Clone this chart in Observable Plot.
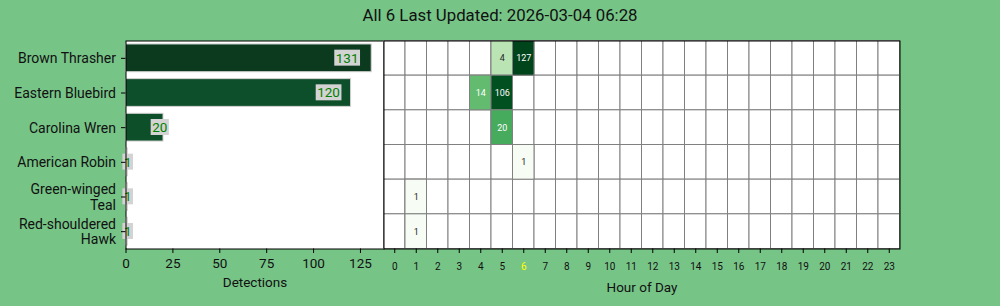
<!DOCTYPE html>
<html><head><meta charset="utf-8">
<script src="https://cdn.jsdelivr.net/npm/d3@7"></script>
<script src="https://cdn.jsdelivr.net/npm/@observablehq/plot@0.6"></script>
<style>
html,body{margin:0;padding:0;background:#77C487;}
#wrap{position:relative;width:1000px;height:306px;background:#77C487;font-family:Roboto,sans-serif;overflow:hidden}
#title{position:absolute;top:5px;left:0;width:1000px;text-align:center;font-size:16.8px;line-height:20px;color:#111;}
#left{position:absolute;left:0;top:0}
#right{position:absolute;left:383px;top:0}
</style></head><body>
<div id="wrap"><div id="title"></div><div id="left"></div><div id="right"></div></div>
<script>
// ---- data ----
const titleText = "All 6 Last Updated: 2026-03-04 06:28";
const species = ["Brown Thrasher","Eastern Bluebird","Carolina Wren","American Robin","Green-winged Teal","Red-shouldered Hawk"];
const yTickLabels = ["Brown Thrasher","Eastern Bluebird","Carolina Wren","American Robin","Green-winged\nTeal","Red-shouldered\nHawk"];
const totals = [131,120,20,1,1,1];
const xTicks = [0,25,50,75,100,125];
const hours = [0,1,2,3,4,5,6,7,8,9,10,11,12,13,14,15,16,17,18,19,20,21,22,23];
const currentHour = 6;
const cellSpecies = ["Brown Thrasher","Brown Thrasher","Eastern Bluebird","Eastern Bluebird","Carolina Wren","American Robin","Green-winged Teal","Red-shouldered Hawk"];
const cellHours = [5,6,4,5,5,6,1,1];
const cellCounts = [4,127,14,106,20,1,1,1];

// ---- styles ----
const barColors = ["#0b3a1f","#0c4f2a","#0d4f29","#f4f9f2","#f4f9f2","#f4f9f2"];
const ink = "#111";

document.getElementById("title").textContent = titleText;

const bars = species.map((s,i)=>({species:s, total:totals[i]}));
const cells = cellSpecies.map((s,i)=>({species:s, hour:cellHours[i], count:cellCounts[i]}));
const grid = species.flatMap(s=>hours.map(h=>({species:s, hour:h})));

const left = Plot.plot({
  width: 384, height: 306,
  marginLeft: 125.5, marginRight: 0.5, marginTop: 40.5, marginBottom: 57.5,
  style: {background:"transparent", fontFamily:"Roboto", color: ink, overflow:"visible"},
  x: {domain:[0, d3.max(totals)*1.05]},
  y: {domain: species, paddingInner: 0.2, paddingOuter: 0.1, round: false},
  color: {domain: species, range: barColors},
  marks: [
    Plot.frame({fill:"white", stroke:"none"}),
    Plot.barX(bars, {x:"total", y:"species", fill:"species", stroke:"#d3d3d3", strokeWidth:1}),
    Plot.text(bars, {x: d=>d.total*0.9, y:"species", text: d=>String(d.total), fill:"green", fontSize:13.5, className:"vlabel"}),
    Plot.frame({stroke:"black", strokeWidth:1}),
    Plot.axisX({ticks: xTicks, tickSize:4.5, tickPadding:4.5, fontSize:13.5, stroke:"black", fill: ink,
      label:"Detections", labelAnchor:"center", labelArrow:"none", labelOffset:38}),
    Plot.axisY({tickSize:4.5, tickPadding:5.5, fontSize:14, lineHeight:1.1, fill: ink, stroke:"black",
      tickFormat: d => yTickLabels[species.indexOf(d)], label:null})
  ]
});
document.getElementById("left").appendChild(left);

// label boxes behind value texts
left.querySelectorAll(".vlabel text").forEach(t=>{
  const b = t.getBBox();
  const r = document.createElementNS("http://www.w3.org/2000/svg","rect");
  r.setAttribute("x", b.x-1.5); r.setAttribute("y", b.y);
  r.setAttribute("width", b.width+3); r.setAttribute("height", b.height);
  r.setAttribute("fill", "#d3d3d3");
  const tr = t.getAttribute("transform");
  if (tr) r.setAttribute("transform", tr);
  t.parentNode.insertBefore(r, t);
});

const lum = d3.scaleLog().domain([1,127]).range([0,1]);
function isDark(v){
  const c = d3.rgb(d3.interpolateGreens(lum(v)));
  const lin = x => { x/=255; return x<=0.03928 ? x/12.92 : Math.pow((x+0.055)/1.055,2.4); };
  const L = 0.2126*lin(c.r)+0.7152*lin(c.g)+0.0722*lin(c.b);
  return L < 0.408;
}

const right = Plot.plot({
  width: 617, height: 306,
  marginLeft: 0.5, marginRight: 100.5, marginTop: 40.5, marginBottom: 57.5,
  style: {background:"transparent", fontFamily:"Roboto", color: ink, overflow:"visible"},
  x: {domain: hours, padding: 0, round: false},
  y: {domain: species, padding: 0, round: false},
  color: {type:"log", scheme:"greens", domain:[1,127]},
  marks: [
    Plot.cell(grid, {x:"hour", y:"species", fill:"white", stroke:"#808080", strokeWidth:1}),
    Plot.cell(cells, {x:"hour", y:"species", fill:"count", stroke:"#808080", strokeWidth:1}),
    Plot.text(cells.filter(d=>isDark(d.count)), {x:"hour", y:"species", text: d=>String(d.count), fill:"white", fontSize:9}),
    Plot.text(cells.filter(d=>!isDark(d.count)), {x:"hour", y:"species", text: d=>String(d.count), fill:"#262626", fontSize:9}),
    Plot.frame({stroke:"black", strokeWidth:1}),
    Plot.axisX({tickSize:4.5, tickPadding:9, fontSize:10, stroke:"black",
      fill: d => d === currentHour ? "yellow" : ink, label:null}),
    Plot.axisX({ticks: [], tickSize:0, fontSize:13.5, fill: ink,
      label:"Hour of Day", labelAnchor:"center", labelArrow:"none", labelOffset:43}),
    Plot.axisY({ticks: [], label: null})
  ]
});
document.getElementById("right").appendChild(right);
</script>
</body></html>
